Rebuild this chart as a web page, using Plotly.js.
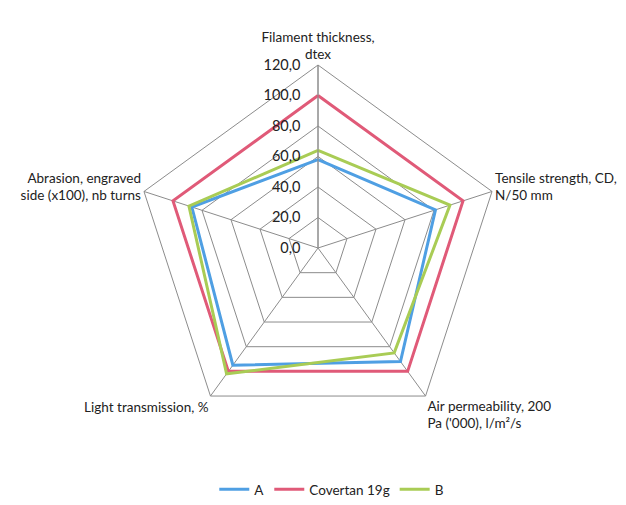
<!DOCTYPE html>
<html>
<head>
<meta charset="utf-8">
<script src="https://cdn.plot.ly/plotly-3.0.1.min.js"></script>
<style>html,body{margin:0;padding:0;background:#fff;}#chart{width:626px;height:505px;}</style>
</head>
<body>
<div id="chart"></div>
<script>
const categories = [
  "Filament thickness,<br>dtex",
  "Tensile strength, CD,<br>N/50 mm",
  "Air permeability, 200<br>Pa ('000), l/m²/s",
  "Light transmission, %",
  "Abrasion, engraved<br>side (x100), nb turns"
];
const seriesA = [58, 81, 92, 95, 87];
const seriesCovertan = [100, 100, 100, 100, 100];
const seriesB = [64, 91, 85, 102, 89];
const tickVals = [0, 20, 40, 60, 80, 100, 120];
const tickText = ["0,0", "20,0", "40,0", "60,0", "80,0", "100,0", "120,0"];

function closed(arr) { return arr.concat([arr[0]]); }

const traces = [
  {name: "A", values: seriesA, color: "#4F9FE3"},
  {name: "Covertan 19g", values: seriesCovertan, color: "#E05A78"},
  {name: "B", values: seriesB, color: "#A9CC55"}
].map(s => ({
  type: "scatterpolar",
  mode: "lines",
  name: s.name,
  r: closed(s.values),
  theta: closed(categories),
  line: {color: s.color, width: 3},
  hoverinfo: "skip"
}));

const layout = {
  width: 626, height: 505,
  margin: {l: 0, r: 0, t: 0, b: 0},
  paper_bgcolor: "#fff",
  font: {family: "Lato, 'Open Sans', sans-serif", size: 13, color: "#222"},
  showlegend: true,
  legend: {orientation: "h", x: 0.53, xanchor: "center", y: 0.0, yanchor: "bottom", font: {size: 13.5}, itemwidth: 30},
  polar: {
    domain: {x: [0.2157, 0.8003], y: [0.1465, 0.8713]},
    gridshape: "linear",
    bgcolor: "#fff",
    radialaxis: {
      range: [0, 120],
      tickvals: tickVals,
      ticktext: tickText,
      angle: 90,
      side: "counterclockwise",
      tickangle: 90,
      showline: true,
      linecolor: "#8c8c8c",
      linewidth: 1,
      gridcolor: "#8c8c8c",
      gridwidth: 1,
      ticks: "outside",
      ticklen: 12,
      tickcolor: "rgba(0,0,0,0)",
      tickfont: {size: 14.5, color: "#222"}
    },
    angularaxis: {
      direction: "clockwise",
      rotation: 90,
      showline: true,
      linecolor: "#8c8c8c",
      linewidth: 1,
      gridcolor: "#8c8c8c",
      ticks: "",
      tickfont: {size: 13.5, color: "#222"}
    }
  }
};

Plotly.newPlot("chart", traces, layout, {staticPlot: true, displayModeBar: false});
</script>
</body>
</html>
